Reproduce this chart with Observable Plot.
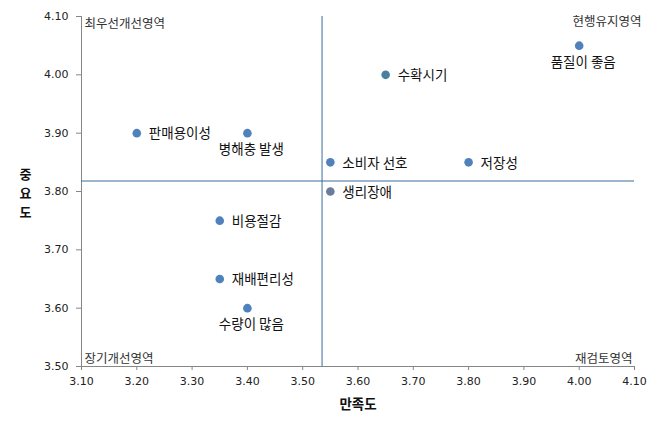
<!DOCTYPE html>
<html>
<head>
<meta charset="utf-8">
<script src="https://cdn.jsdelivr.net/npm/d3@7"></script>
<script src="https://cdn.jsdelivr.net/npm/@observablehq/plot@0.6"></script>
<style>
  html, body { margin: 0; padding: 0; background: #ffffff; }
</style>
</head>
<body>
<div id="chart"></div>
<script>
// Data
const items = ["판매용이성", "병해충 발생", "수확시기", "품질이 좋음", "소비자 선호", "저장성", "생리장애", "비용절감", "재배편리성", "수량이 많음"];
const satisfaction = [3.20, 3.40, 3.65, 4.00, 3.55, 3.80, 3.55, 3.35, 3.35, 3.40];
const importance   = [3.90, 3.90, 4.00, 4.05, 3.85, 3.85, 3.80, 3.75, 3.65, 3.60];
const xTicks = [3.10, 3.20, 3.30, 3.40, 3.50, 3.60, 3.70, 3.80, 3.90, 4.00, 4.10];
const yTicks = [3.50, 3.60, 3.70, 3.80, 3.90, 4.00, 4.10];
const xMean = [3.535];
const yMean = [3.818];
const quadrants = ["최우선개선영역", "현행유지영역", "장기개선영역", "재검토영역"];
const xTitle = "만족도";
const yTitle = "중요도";

const data = items.map((name, i) => ({name, x: satisfaction[i], y: importance[i]}));
const belowNames = new Set(["병해충 발생", "품질이 좋음", "수량이 많음"]);
const dotColor = d => d.name === "수확시기" ? "#4b7f9f" : d.name === "생리장애" ? "#6b7b9b" : "#4f81bd";

const KR = "'Noto Sans CJK KR', 'Noto Sans', sans-serif";
const NUM = "'DejaVu Sans', sans-serif";

const chart = Plot.plot({
  width: 663,
  height: 434,
  marginLeft: 81,
  marginRight: 29,
  marginTop: 16,
  marginBottom: 68,
  style: {fontFamily: KR, background: "#ffffff", color: "#000"},
  x: {domain: [3.1, 4.1], label: null},
  y: {domain: [3.5, 4.1], label: null},
  marks: [
    Plot.axisX({ticks: xTicks, tickFormat: d3.format(".2f"), tickSize: 4, tickPadding: 7, fontSize: 11, fontFamily: NUM, fill: "#222", stroke: "#868686", label: null}),
    Plot.axisY({ticks: yTicks, tickFormat: d3.format(".2f"), tickSize: 5, tickPadding: 8, fontSize: 11, fontFamily: NUM, fill: "#222", stroke: "#868686", label: null}),
    Plot.ruleX([3.1], {stroke: "#868686"}),
    Plot.ruleY([3.5], {stroke: "#868686"}),
    Plot.ruleX(xMean, {stroke: "#3a6c9e", strokeWidth: 1}),
    Plot.ruleY(yMean, {stroke: "#3a6c9e", strokeWidth: 1, x1: 3.1, x2: 4.1}),
    Plot.dot(data, {x: "x", y: "y", r: 4.3, fill: dotColor, stroke: null}),
    Plot.text(data.filter(d => !belowNames.has(d.name)), {x: "x", y: "y", text: "name", textAnchor: "start", dx: 12, dy: 1, fontSize: 13.5, fill: "#111", fontFamily: KR}),
    Plot.text(data.filter(d => belowNames.has(d.name)), {x: "x", y: "y", text: "name", textAnchor: "middle", dx: 4, dy: 17, fontSize: 13.5, fill: "#111", fontFamily: KR}),
    Plot.text([quadrants[0]], {frameAnchor: "top-left", text: d => d, dx: 3, dy: 3, fontSize: 12.5, fill: "#333", fontFamily: KR}),
    Plot.text([quadrants[1]], {frameAnchor: "top-right", text: d => d, dx: 7, dy: 1, fontSize: 12.5, fill: "#333", fontFamily: KR}),
    Plot.text([quadrants[2]], {frameAnchor: "bottom-left", text: d => d, dx: 3, dy: -4, fontSize: 12.5, fill: "#333", fontFamily: KR}),
    Plot.text([quadrants[3]], {frameAnchor: "bottom-right", text: d => d, dx: -2, dy: -4, fontSize: 12.5, fill: "#333", fontFamily: KR}),
    Plot.text([xTitle], {frameAnchor: "bottom", text: d => d, dy: 42, fontSize: 13.5, fontWeight: "bold", fill: "#111", fontFamily: KR}),
    Plot.text([yTitle.split("").join("\n")], {frameAnchor: "left", text: d => d, dx: -56, lineHeight: 1.47, fontSize: 13, fontWeight: "bold", fill: "#111", fontFamily: KR, textAnchor: "middle"})
  ]
});
document.getElementById("chart").appendChild(chart);
</script>
</body>
</html>
